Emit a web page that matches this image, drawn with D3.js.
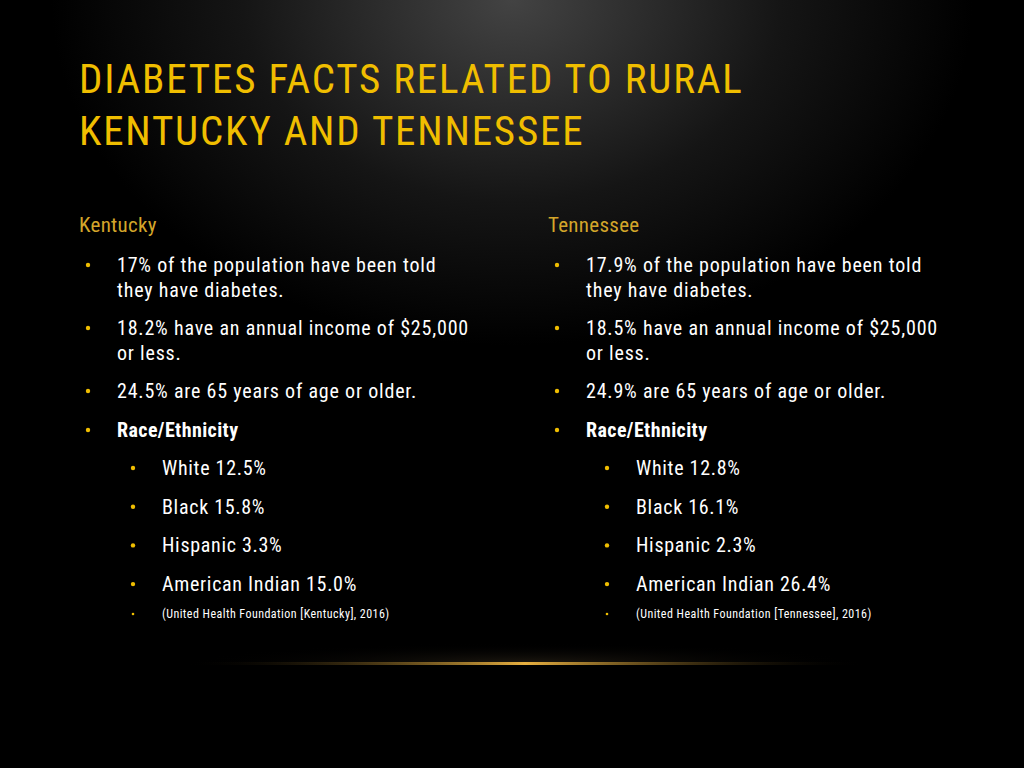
<!DOCTYPE html>
<html><head><meta charset="utf-8">
<script src="https://cdn.jsdelivr.net/npm/d3@7"></script>
<style>body{margin:0;background:#000}svg{display:block}</style>
</head><body>
<script>
const titleLines = ["DIABETES FACTS RELATED TO RURAL","KENTUCKY AND TENNESSEE"];
const states = ["Kentucky","Tennessee"];
const kyBullets = [["17% of the population have been told","they have diabetes."],["18.2% have an annual income of $25,000","or less."],["24.5% are 65 years of age or older."]];
const tnBullets = [["17.9% of the population have been told","they have diabetes."],["18.5% have an annual income of $25,000","or less."],["24.9% are 65 years of age or older."]];
const raceLabels = ["White","Black","Hispanic","American Indian"];
const kyRace = [12.5,15.8,3.3,15.0];
const tnRace = [12.8,16.1,2.3,26.4];
const citations = ["(United Health Foundation [Kentucky], 2016)","(United Health Foundation [Tennessee], 2016)"];

const W=1024,H=768;
const svg=d3.select("body").append("svg").attr("width",W).attr("height",H);
const defs=svg.append("defs");
const rg=defs.append("radialGradient").attr("id","bg").attr("cx","50%").attr("cy","0%").attr("r","75%");
rg.append("stop").attr("offset","0%").attr("stop-color","#434343");
rg.append("stop").attr("offset","35%").attr("stop-color","#151515");
rg.append("stop").attr("offset","60%").attr("stop-color","#000");
svg.append("rect").attr("width",W).attr("height",H).attr("fill","url(#bg)");
const lg=defs.append("linearGradient").attr("id","ln");
[[0,"#000",0],[0.5,"#e8b040",1],[1,"#000",0]].forEach(s=>lg.append("stop").attr("offset",s[0]).attr("stop-color",s[1]).attr("stop-opacity",s[2]));
const gl=defs.append("radialGradient").attr("id","glow").attr("cx","50%").attr("cy","100%").attr("r","50%");
gl.append("stop").attr("offset","0%").attr("stop-color","#3a3020").attr("stop-opacity",0.5);
gl.append("stop").attr("offset","100%").attr("stop-color","#000").attr("stop-opacity",0);
svg.append("rect").attr("x",185).attr("y",623).attr("width",680).attr("height",40).attr("fill","url(#glow)");
svg.append("rect").attr("x",185).attr("y",662).attr("width",680).attr("height",3).attr("fill","url(#ln)");

const F="'Liberation Sans Narrow','Roboto Condensed','Roboto',sans-serif";
const gold="#F0BE00";
svg.selectAll("text.t").data(titleLines).join("text").attr("x",79).attr("y",(d,i)=>93+i*52)
 .attr("font-family",F).attr("font-size",41).attr("letter-spacing",1.8).attr("fill",gold).text(d=>d);

function col(x0,state,bullets,race,cite,subX){
  const g=svg.append("g").attr("transform",`translate(${x0},0)`).attr("font-family",F);
  g.append("text").attr("x",0).attr("y",232).attr("font-size",21).attr("letter-spacing",0.3).attr("fill","#D4A62A").text(state);
  const ys=[272,335,398];
  const dot=(x,y,r)=>g.append("circle").attr("cx",x).attr("cy",y).attr("r",r).attr("fill",gold);
  bullets.forEach((b,i)=>{
    dot(9,ys[i]-7,2.2);
    b.forEach((l,j)=>g.append("text").attr("x",38).attr("y",ys[i]+j*25).attr("font-size",20).attr("letter-spacing",0.8).attr("fill","#fff").text(l));
  });
  dot(9,430,2.2);
  g.append("text").attr("x",38).attr("y",437).attr("font-size",20).attr("letter-spacing",0.4).attr("font-weight","bold").attr("fill","#fff").text("Race/Ethnicity");
  race.forEach((v,i)=>{
    const y=475+i*38.7;
    dot(subX-29,y-7,2.2);
    g.append("text").attr("x",subX).attr("y",y).attr("font-size",20).attr("letter-spacing",0.7).attr("fill","#fff").text(raceLabels[i]+" "+v.toFixed(1)+"%");
  });
  dot(subX-29,614,1.3);
  g.append("text").attr("x",subX).attr("y",618).attr("font-size",12).attr("letter-spacing",0.45).attr("fill","#fff").text(cite);
}
col(79,states[0],kyBullets,kyRace,citations[0],83);
col(548,states[1],tnBullets,tnRace,citations[1],88);
</script>
</body></html>
